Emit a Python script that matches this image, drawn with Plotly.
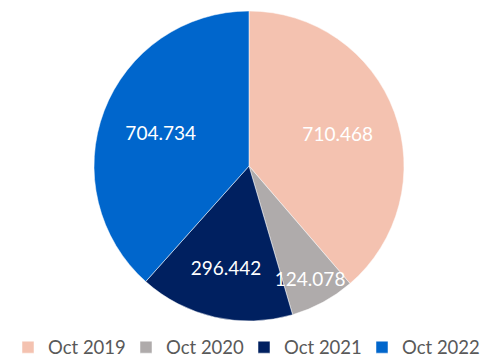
import plotly.graph_objects as go

labels = ["Oct 2019", "Oct 2020", "Oct 2021", "Oct 2022"]
values = [710.468, 124.078, 296.442, 704.734]
colors = ["#F4C2B0", "#AFABAB", "#002060", "#0066CC"]

dom = dict(x=[86/500, 396/500], y=[(363-313)/363, (363-3)/363])
font_family = "Lato, Open Sans, sans-serif"

# slices (with legend)
fig = go.Figure(go.Pie(
    labels=labels,
    values=values,
    sort=False,
    direction="clockwise",
    rotation=0,
    marker=dict(colors=colors, line=dict(color="white", width=0.5)),
    textinfo="none",
    hoverinfo="label+value",
    domain=dom,
))

# value labels on top of all slices (transparent overlay of the same data)
fig.add_trace(go.Pie(
    labels=labels,
    values=values,
    sort=False,
    direction="clockwise",
    rotation=0,
    hole=0.22,
    marker=dict(colors=["rgba(0,0,0,0)"] * len(values), line=dict(width=0)),
    texttemplate="%{value:.3f}",
    textposition="inside",
    insidetextorientation="horizontal",
    textfont=dict(family=font_family, size=19, color="white"),
    hoverinfo="skip",
    showlegend=False,
    domain=dom,
))

fig.update_layout(
    width=500, height=363,
    margin=dict(l=0, r=0, t=0, b=0),
    paper_bgcolor="white",
    plot_bgcolor="white",
    uniformtext=dict(minsize=19, mode="show"),
    showlegend=True,
    legend=dict(
        orientation="h",
        x=0.46, xanchor="center",
        y=0.012, yanchor="bottom",
        font=dict(family=font_family, size=18.5, color="#595959"),
        itemwidth=30,
        entrywidth=73,
        entrywidthmode="pixels",
        traceorder="normal",
    ),
)

fig.write_html("out.html")
